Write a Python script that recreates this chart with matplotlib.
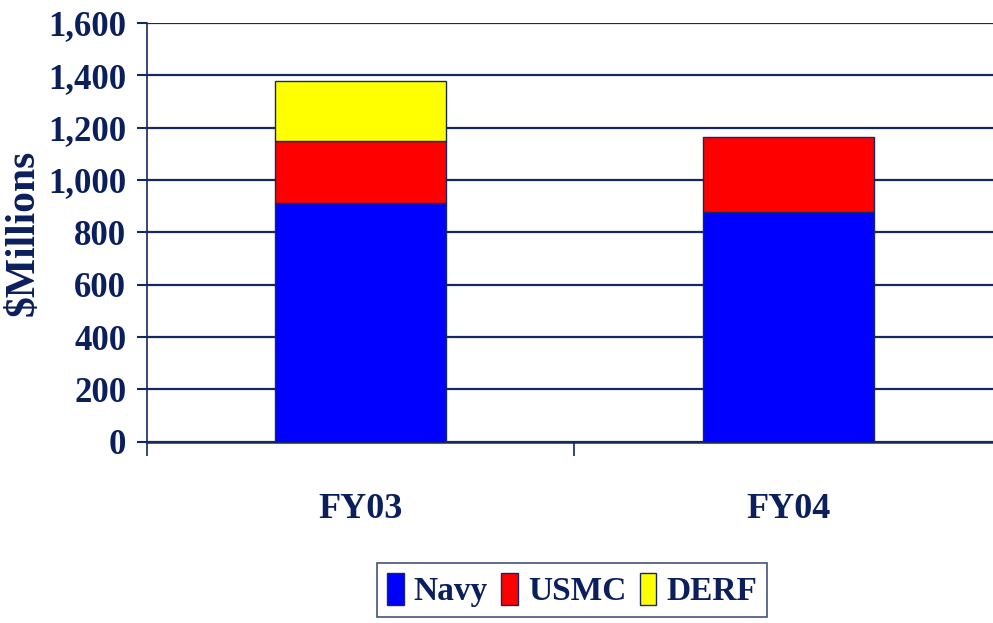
import matplotlib
matplotlib.use("Agg")
import matplotlib.pyplot as plt
import numpy as np

categories = ["FY03", "FY04"]
navy = [911, 879]
usmc = [237, 284]
derf = [231, 0]
series_names = ["Navy", "USMC", "DERF"]
colors = ["#0000FF", "#FF0000", "#FFFF00"]
yticks = [0, 200, 400, 600, 800, 1000, 1200, 1400, 1600]

TXT = "#0a1f5c"
LINE = "#15295e"
plt.rcParams['font.family'] = ['Liberation Serif', 'DejaVu Serif']
plt.rcParams['font.weight'] = 'bold'

fig = plt.figure(figsize=(9.93, 6.23), dpi=100)
ax = fig.add_axes([0.148, 0.291, 0.861, 0.672])

x = np.arange(len(categories))
w = 0.4
bottoms = np.zeros(len(categories))
handles = []
for name, vals, c in zip(series_names, [navy, usmc, derf], colors):
    vals = np.array(vals, dtype=float)
    mask = vals > 0
    b = ax.bar(x[mask], vals[mask], w, bottom=bottoms[mask], color=c,
               edgecolor=LINE, linewidth=1.0, zorder=3, label=name)
    handles.append(b)
    bottoms += vals

ax.set_xlim(-0.5, 1.5)
ax.set_ylim(0, 1600)
ax.set_yticks(yticks)
ax.set_yticklabels([f"{v:,}" for v in yticks])
ax.yaxis.grid(True, color=LINE, linewidth=1.6, zorder=0)
ax.set_axisbelow(True)

ax.set_xticks(x)
ax.set_xticklabels(categories)
ax.set_xticks([-0.5, 0.5, 1.5], minor=True)
ax.tick_params(axis='x', which='major', length=0, pad=37, labelsize=26, labelcolor=TXT)
ax.tick_params(axis='x', which='minor', length=10, width=1.2, color=LINE, direction='out')
ax.tick_params(axis='y', which='major', length=7, width=1.5, color=LINE, pad=8,
               labelsize=25, labelcolor=TXT)

for s in ['top', 'right']:
    ax.spines[s].set_visible(False)
ax.spines['left'].set_color(LINE)
ax.spines['left'].set_linewidth(1.2)
ax.spines['bottom'].set_color(LINE)
ax.spines['bottom'].set_linewidth(1.8)

ax.set_ylabel("$Millions", fontsize=30, color=TXT, fontweight='bold')
ax.yaxis.set_label_coords(-0.122, 0.5)

leg = fig.legend(handles=handles, labels=series_names, loc='upper center',
                 bbox_to_anchor=(0.576, 0.097), ncol=3, fontsize=24,
                 frameon=True, fancybox=False, edgecolor=LINE,
                 handlelength=0.5, handleheight=1.1, handletextpad=0.3,
                 columnspacing=0.4, borderpad=0.3, borderaxespad=0)
for t in leg.get_texts():
    t.set_color(TXT)
leg.get_frame().set_linewidth(1.2)

fig.savefig("out.png", dpi=100)
